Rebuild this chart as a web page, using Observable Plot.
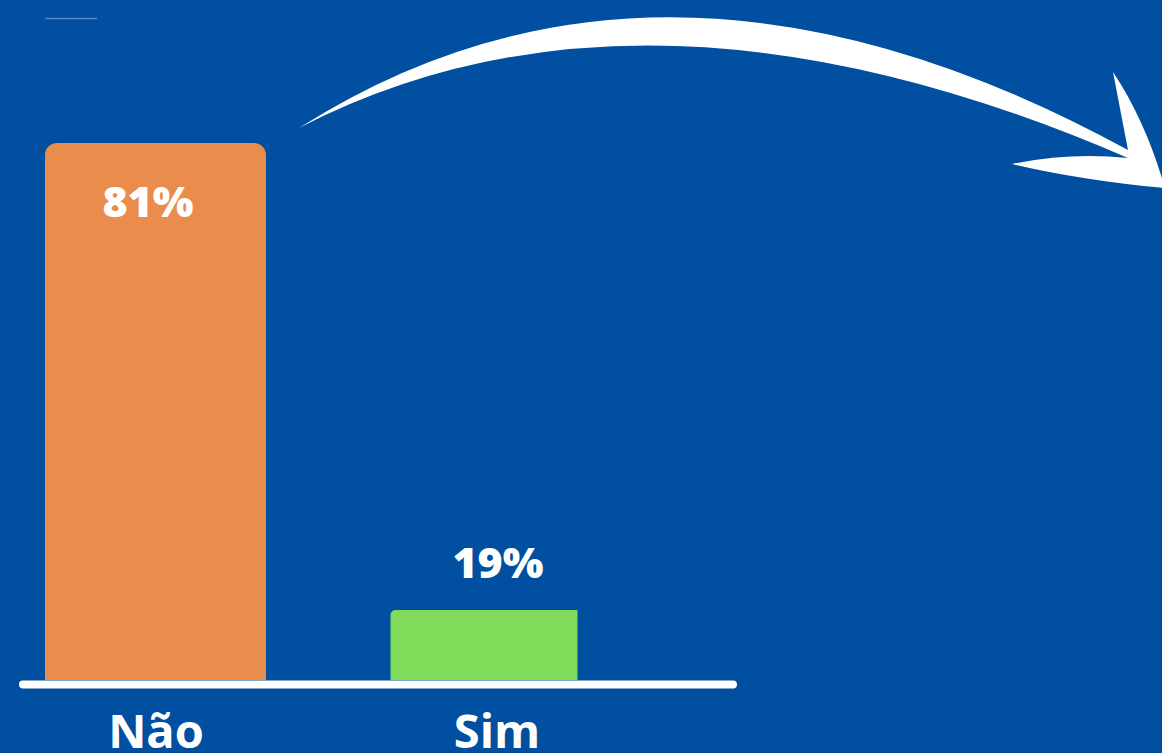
<!DOCTYPE html>
<html>
<head>
<meta charset="utf-8">
<script src="https://cdn.jsdelivr.net/npm/d3@7"></script>
<script src="https://cdn.jsdelivr.net/npm/@observablehq/plot@0.6"></script>
<style>
  html, body { margin: 0; padding: 0; background: #004FA0; overflow: hidden; }
  #wrap { position: relative; width: 1162px; height: 753px; }
  #deco { position: absolute; left: 0; top: 0; pointer-events: none; }
</style>
</head>
<body>
<div id="wrap"></div>
<script>
const categories = ["Não", "Sim"];
const values = [81, 19];
const valueLabels = ["81%", "19%"];
const barColors = ["#EA8C4B", "#80DB5A"];

const data = categories.map((c, i) => ({cat: c, value: values[i], label: valueLabels[i], color: barColors[i]}));
const yMin = 9.7;

const font = "'Open Sans', sans-serif";

const chart = Plot.plot({
  width: 1162,
  height: 753,
  marginLeft: 23,
  marginRight: 429,
  marginTop: 0,
  marginBottom: 73,
  style: {background: "#004FA0", color: "white", fontFamily: font},
  x: {domain: categories, range: [45, 607.5], paddingInner: 0.353, paddingOuter: 0, align: 0, label: null},
  y: {domain: [yMin, 81], range: [680, 143], axis: null},
  marks: [
    Plot.barY(data.filter(d => d.cat === "Não"), {x: "cat", y1: yMin, y2: "value", fill: "color", ry1: 12}),
    Plot.barY(data.filter(d => d.cat === "Sim"), {x: "cat", y1: yMin, y2: "value", fill: "color", insetLeft: 4.5, insetRight: 29.5, rx1y1: 5}),
    Plot.ruleY([yMin], {stroke: "white", strokeWidth: 8, strokeLinecap: "round", dy: 4}),
    Plot.text(data.filter(d => d.cat === "Não"), {x: "cat", y: "value", text: "label", fill: "white", fontSize: 43, fontWeight: 800, dy: 60, dx: -8, fontFamily: font}),
    Plot.text(data.filter(d => d.cat === "Sim"), {x: "cat", y: "value", text: "label", fill: "white", fontSize: 43, fontWeight: 800, dy: -46, dx: 1, fontFamily: font}),
    Plot.axisX({tickSize: 0, tickPadding: 34, fontSize: 47, fontWeight: 700, fill: "white", label: null, fontFamily: font})
  ]
});
document.getElementById("wrap").appendChild(chart);

// decorative arrow and small top line
const ns = "http://www.w3.org/2000/svg";
const deco = document.createElementNS(ns, "svg");
deco.setAttribute("id", "deco");
deco.setAttribute("width", 1162);
deco.setAttribute("height", 753);
const line = document.createElementNS(ns, "line");
line.setAttribute("x1", 45); line.setAttribute("x2", 97);
line.setAttribute("y1", 18.5); line.setAttribute("y2", 18.5);
line.setAttribute("stroke", "#5E87C2"); line.setAttribute("stroke-width", 1.5);
deco.appendChild(line);
const arrow = document.createElementNS(ns, "path");
arrow.setAttribute("d", "M 299 128 Q 664 -104 1128 150 L 1113 72 Q 1145 120 1164 185 L 1164 188 Q 1080 180 1012 164 Q 1070 152 1128 158 Q 646 -51 299 128 Z");
arrow.setAttribute("fill", "white");
deco.appendChild(arrow);
document.getElementById("wrap").appendChild(deco);
</script>
</body>
</html>
